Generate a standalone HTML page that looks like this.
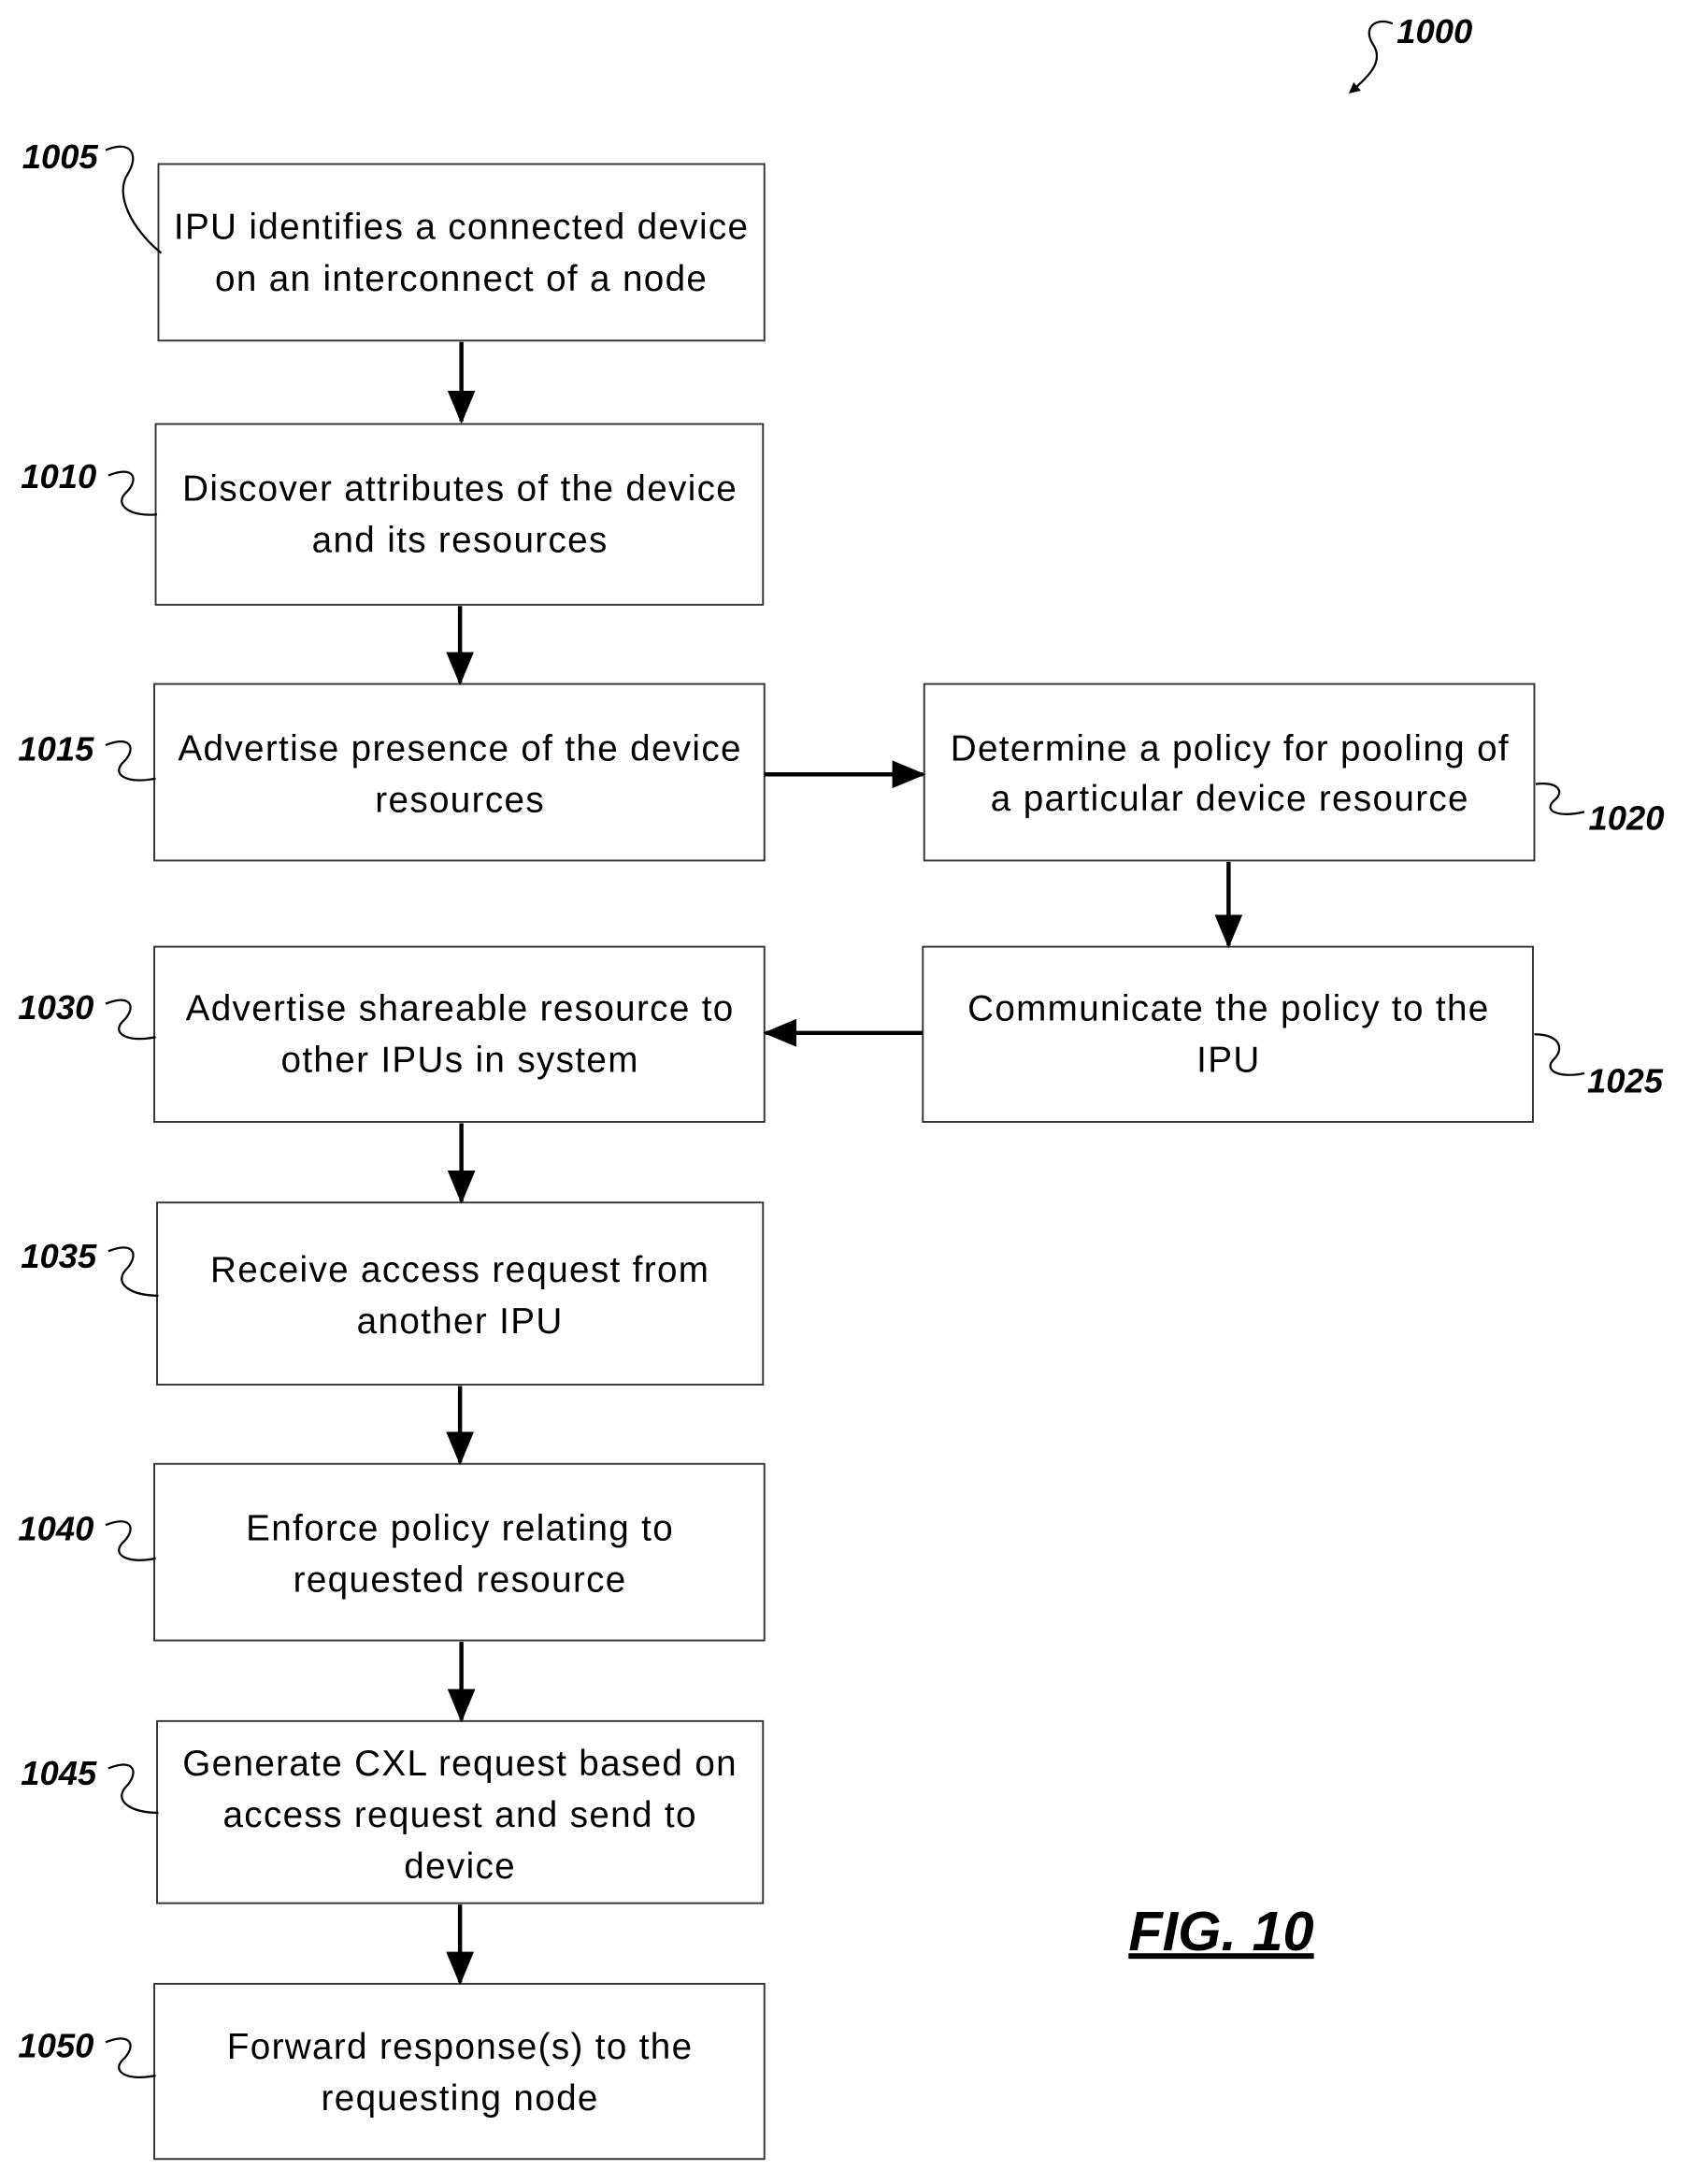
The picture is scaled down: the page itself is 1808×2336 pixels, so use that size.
<!DOCTYPE html>
<html><head><meta charset="utf-8"><style>
html,body{margin:0;padding:0;background:#fff;}
svg{display:block;}
text{font-family:"Liberation Sans",sans-serif;}
.t{font-size:26px;letter-spacing:0.9px;fill:#000;text-anchor:middle;}
.l{font-size:24.5px;font-weight:bold;font-style:italic;fill:#000;}
rect{fill:#fff;stroke:#333;stroke-width:1.3;}
.a{stroke:#000;stroke-width:3;fill:none;}
.s{stroke:#000;stroke-width:1.5;fill:none;}
</style></head><body>
<svg width="1808" height="2336" viewBox="0 0 1216 1571" preserveAspectRatio="none" xmlns="http://www.w3.org/2000/svg">
<defs><marker id="ah" markerWidth="8" markerHeight="8" refX="6" refY="4" orient="auto" markerUnits="userSpaceOnUse" viewBox="0 0 8 8"><path d="M0,0 L8,4 L0,8 z" fill="#000"/></marker>
<marker id="ah2" markerWidth="24" markerHeight="24" refX="22" refY="12" orient="auto" markerUnits="userSpaceOnUse"><path d="M0,2 L24,12 L0,22 z" fill="#000"/></marker></defs>

<text class="l" x="1005" y="31">1000</text>
<path class="s" d="M1002,17 C990,12 980,20 988,32 C996,44 985,55 972,66" marker-end="url(#ah)"/>

<rect x="114" y="118" width="436" height="127"/>
<text class="t" x="332" y="172">IPU identifies a connected device</text>
<text class="t" x="332" y="209">on an interconnect of a node</text>
<text class="l" x="16" y="121">1005</text>
<path class="s" d="M76,108 C95,100 100,112 92,125 C82,140 95,165 116,182"/>

<rect x="112" y="305" width="437" height="130"/>
<text class="t" x="331" y="360">Discover attributes of the device</text>
<text class="t" x="331" y="397">and its resources</text>
<text class="l" x="15" y="351">1010</text>
<path class="s" d="M78,342 C98,334 100,346 90,355 C82,364 95,372 113,370"/>

<rect x="111" y="492" width="439" height="127"/>
<text class="t" x="331" y="547">Advertise presence of the device</text>
<text class="t" x="331" y="584">resources</text>
<text class="l" x="13" y="547">1015</text>
<path class="s" d="M76,536 C96,528 98,540 88,549 C80,558 93,564 112,560"/>

<rect x="665" y="492" width="439" height="127"/>
<text class="t" x="885" y="547">Determine a policy for pooling of</text>
<text class="t" x="885" y="583">a particular device resource</text>
<text class="l" x="1143" y="597">1020</text>
<path class="s" d="M1105,564 C1122,562 1126,570 1118,576 C1110,584 1122,588 1140,584"/>

<rect x="664" y="681" width="439" height="126"/>
<text class="t" x="884" y="734">Communicate the policy to the</text>
<text class="t" x="884" y="771">IPU</text>
<text class="l" x="1142" y="786">1025</text>
<path class="s" d="M1104,744 C1122,744 1126,754 1118,762 C1110,770 1122,776 1140,772"/>

<rect x="111" y="681" width="439" height="126"/>
<text class="t" x="331" y="734">Advertise shareable resource to</text>
<text class="t" x="331" y="771">other IPUs in system</text>
<text class="l" x="13" y="733">1030</text>
<path class="s" d="M76,722 C96,714 98,726 88,735 C80,744 93,750 112,746"/>

<rect x="113" y="865" width="436" height="131"/>
<text class="t" x="331" y="922">Receive access request from</text>
<text class="t" x="331" y="959">another IPU</text>
<text class="l" x="15" y="912">1035</text>
<path class="s" d="M78,900 C98,892 100,904 90,914 C82,924 95,932 114,932"/>

<rect x="111" y="1053" width="439" height="127"/>
<text class="t" x="331" y="1108">Enforce policy relating to</text>
<text class="t" x="331" y="1145">requested resource</text>
<text class="l" x="13" y="1108">1040</text>
<path class="s" d="M76,1097 C96,1089 98,1101 88,1110 C80,1119 93,1125 112,1121"/>

<rect x="113" y="1238" width="436" height="131"/>
<text class="t" x="331" y="1277">Generate CXL request based on</text>
<text class="t" x="331" y="1314">access request and send to</text>
<text class="t" x="331" y="1351">device</text>
<text class="l" x="15" y="1284">1045</text>
<path class="s" d="M78,1272 C98,1264 100,1276 90,1286 C82,1296 95,1304 114,1304"/>

<rect x="111" y="1427" width="439" height="126"/>
<text class="t" x="331" y="1481">Forward response(s) to the</text>
<text class="t" x="331" y="1518">requesting node</text>
<text class="l" x="13" y="1480">1050</text>
<path class="s" d="M76,1469 C96,1461 98,1473 88,1482 C80,1491 93,1497 112,1493"/>

<line class="a" x1="332" y1="246" x2="332" y2="303" marker-end="url(#ah2)"/>
<line class="a" x1="331" y1="436" x2="331" y2="491" marker-end="url(#ah2)"/>
<line class="a" x1="550" y1="557" x2="664" y2="557" marker-end="url(#ah2)"/>
<line class="a" x1="884" y1="620" x2="884" y2="680" marker-end="url(#ah2)"/>
<line class="a" x1="664" y1="743" x2="551" y2="743" marker-end="url(#ah2)"/>
<line class="a" x1="332" y1="808" x2="332" y2="864" marker-end="url(#ah2)"/>
<line class="a" x1="331" y1="997" x2="331" y2="1052" marker-end="url(#ah2)"/>
<line class="a" x1="332" y1="1181" x2="332" y2="1237" marker-end="url(#ah2)"/>
<line class="a" x1="331" y1="1370" x2="331" y2="1426" marker-end="url(#ah2)"/>

<text x="812" y="1403" style="font-size:40px;font-weight:bold;font-style:italic;text-decoration:underline;">FIG. 10</text>
</svg>
</body></html>
